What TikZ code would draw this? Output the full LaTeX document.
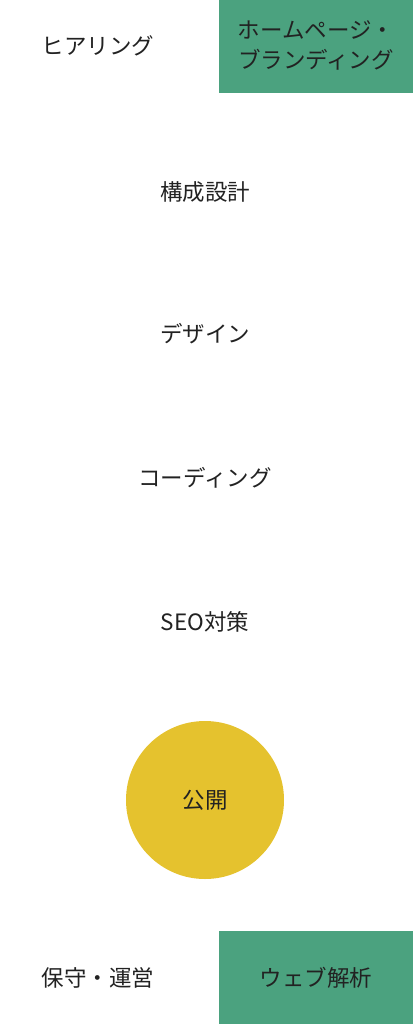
\documentclass[tikz,border=0pt]{standalone}
\usepackage{fontspec}
\setmainfont{Noto Sans CJK JP}
\usetikzlibrary{positioning}
\definecolor{stepgreen}{HTML}{4BA27F}
\definecolor{stepyellow}{HTML}{E5C22E}
\definecolor{steptext}{HTML}{222222}

\begin{document}
\begin{tikzpicture}[x=1pt, y=-1pt,
                    my text/.style={text=steptext, font=\fontsize{22.5}{30}\selectfont,
                      inner sep=0pt, align=center},
                    my box/.style={fill=stepgreen, draw=none, inner sep=0pt,
                      minimum width=194pt, minimum height=93pt},
                    my circle/.style={circle, fill=stepyellow, draw=none,
                      minimum size=158pt, inner sep=0pt}]

\useasboundingbox (0,0) rectangle (413,1024);

% Kopfzeile
\node[my box, anchor=north east] (webbox) at (413,0) {};
\node[my text] (hearing) at (98,46) {ヒアリング};
\node[my text] (branding) at (316,45) {ホームページ・\\ブランディング};

% Ablauf
\node[my text] (structure) at (205,192) {構成設計};
\node[my text] (design) at (205,334) {デザイン};
\node[my text] (coding) at (205,478) {コーディング};
\node[my text] (seo) at (205,622) {SEO対策};
\node[my circle] (release) at (205,800) {};
\node[my text] (releasetext) at (release.center) {公開};

% Fußzeile
\node[my box, anchor=south east] (analysisbox) at (413,1024) {};
\node[my text] (maintenance) at (98,978) {保守・運営};
\node[my text] (analysis) at (316,978) {ウェブ解析};
\end{tikzpicture}
\end{document}
